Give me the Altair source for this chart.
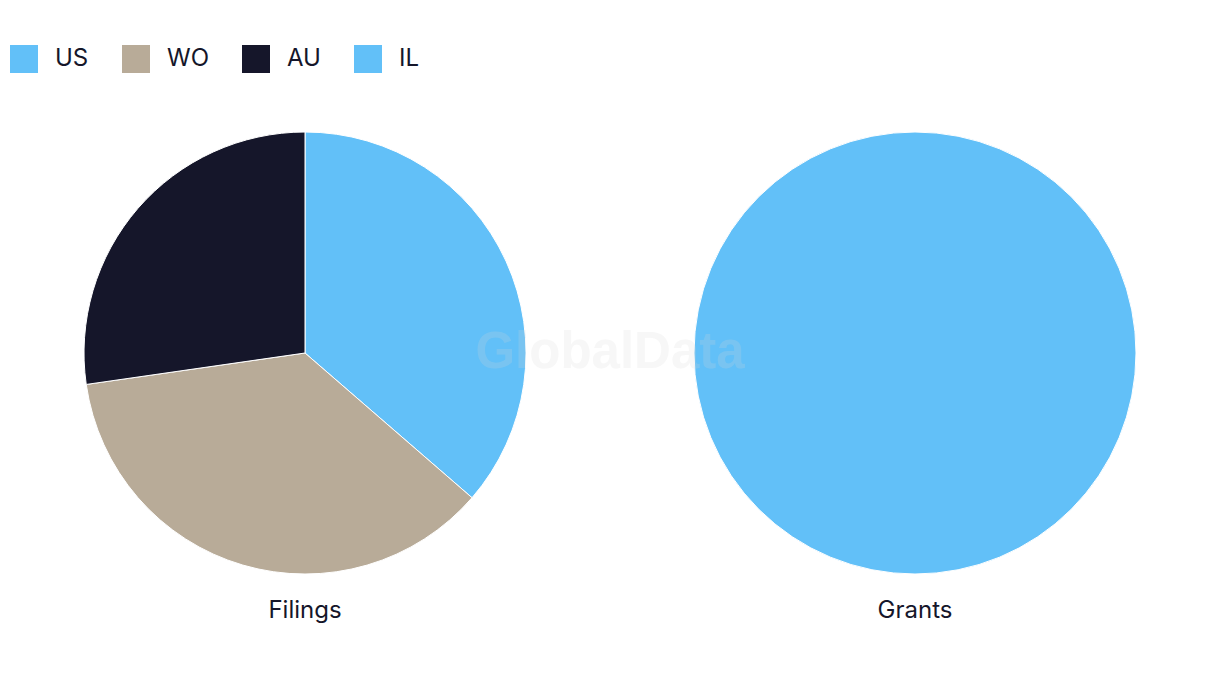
import altair as alt
import pandas as pd

countries = ["US", "WO", "AU", "IL"]
colors = ["#62C0F8", "#B8AB98", "#15162A", "#62C0F8"]

filings_country = ["US", "WO", "AU"]
filings_value = [4, 4, 3]
grants_country = ["IL"]
grants_value = [1]
panel_titles = ["Filings", "Grants"]

FONT = "Inter"
TEXT_COLOR = "#15162A"
W, H = 1204, 620
CY, R = 345, 221
CX1, CX2 = 297, 907

color_scale = alt.Scale(domain=countries, range=colors)

filings_df = pd.DataFrame({"country": filings_country, "value": filings_value,
                           "ord": list(range(len(filings_country)))})
grants_df = pd.DataFrame({"country": grants_country, "value": grants_value,
                          "ord": list(range(len(grants_country)))})

legend = alt.Legend(
    title=None, orient="none", direction="horizontal",
    legendX=2, legendY=37, symbolType="square", symbolSize=784,
    symbolStrokeWidth=0, labelFontSize=24, labelFont=FONT,
    labelColor=TEXT_COLOR, labelOffset=17, columnPadding=33,
    symbolOpacity=1,
)


def arc(df, cx, show_legend):
    return alt.Chart(df).mark_arc(radius=R, stroke="white", strokeWidth=1).encode(
        theta=alt.Theta("value:Q", stack=True),
        order=alt.Order("ord:Q"),
        color=alt.Color("country:N", scale=color_scale,
                        legend=legend if show_legend else None),
        x=alt.value(cx),
        y=alt.value(CY),
    )


def label(text, cx):
    return alt.Chart(pd.DataFrame({"t": [text]})).mark_text(
        font=FONT, fontSize=24, color=TEXT_COLOR, baseline="middle", align="center"
    ).encode(text="t:N", x=alt.value(cx), y=alt.value(603))


wm = alt.Chart(pd.DataFrame({"t": ["GlobalData"]})).mark_text(
    font="Liberation Sans", fontWeight="bold", fontSize=51,
    color="#d8d8d8", opacity=0.2, baseline="middle", align="center"
).encode(text="t:N", x=alt.value(602), y=alt.value(CY))

chart = alt.layer(
    arc(filings_df, CX1, True),
    arc(grants_df, CX2, False),
    label(panel_titles[0], CX1),
    label(panel_titles[1], CX2),
    wm,
).resolve_scale(theta="independent").properties(
    width=W, height=H, padding=0
).configure_view(stroke=None).configure_legend(symbolLimit=0)

chart.save("out.html", embed_options={"renderer": "svg", "actions": False})
